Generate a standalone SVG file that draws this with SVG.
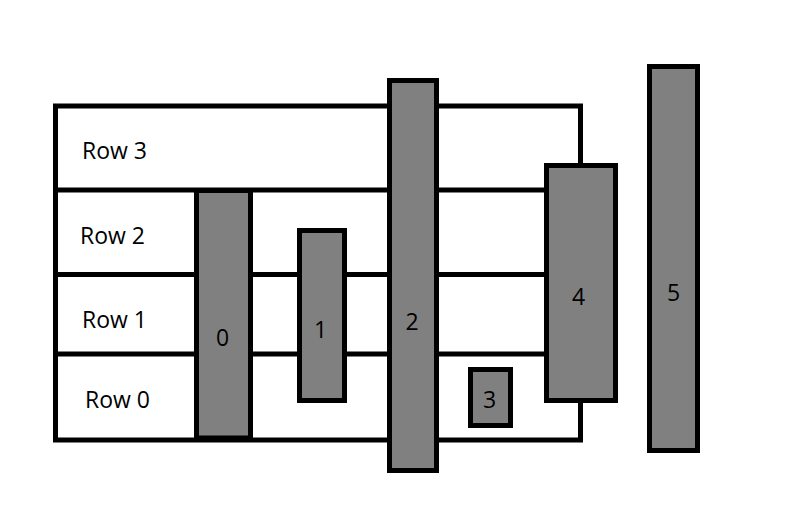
<svg xmlns="http://www.w3.org/2000/svg" width="785" height="522" viewBox="0 0 785 522">
<style>
.grid{fill:none;stroke:#000;stroke-width:5}
.box{fill:#808080;stroke:#000;stroke-width:5}
.t{font-family:"Open Sans","Noto Sans",sans-serif;font-size:23px;fill:#000}
.n{font-family:"Open Sans","Noto Sans",sans-serif;font-size:23px;fill:#000;text-anchor:middle}
</style>
<rect width="785" height="522" fill="#fff"/>
<g id="connectors">
<rect class="grid" x="55.5" y="106" width="525" height="334"/>
<line class="grid" x1="55.5" y1="190" x2="580.5" y2="190"/>
<line class="grid" x1="55.5" y1="274.5" x2="580.5" y2="274.5"/>
<line class="grid" x1="55.5" y1="354" x2="580.5" y2="354"/>
</g>
<g id="row3"><text class="t" x="82" y="159">Row 3</text></g>
<g id="row2"><text class="t" x="80" y="244">Row 2</text></g>
<g id="row1"><text class="t" x="82" y="328">Row 1</text></g>
<g id="row0"><text class="t" x="85" y="408">Row 0</text></g>
<g id="n0"><rect class="box" x="196.5" y="190.5" width="54" height="247.5"/><text class="n" x="222.5" y="346">0</text></g>
<g id="n1"><rect class="box" x="299.5" y="230.5" width="45" height="170"/><text class="n" x="320.5" y="338">1</text></g>
<g id="n2"><rect class="box" x="389.5" y="80.5" width="47" height="390"/><text class="n" x="412" y="330">2</text></g>
<g id="n3"><rect class="box" x="470.5" y="369.5" width="40" height="56"/><text class="n" x="489.5" y="408">3</text></g>
<g id="n4"><rect class="box" x="546.5" y="165.5" width="69" height="235"/><text class="n" x="578.5" y="305">4</text></g>
<g id="n5"><rect class="box" x="649.5" y="66.5" width="48" height="384"/><text class="n" x="673.5" y="301">5</text></g>
</svg>
